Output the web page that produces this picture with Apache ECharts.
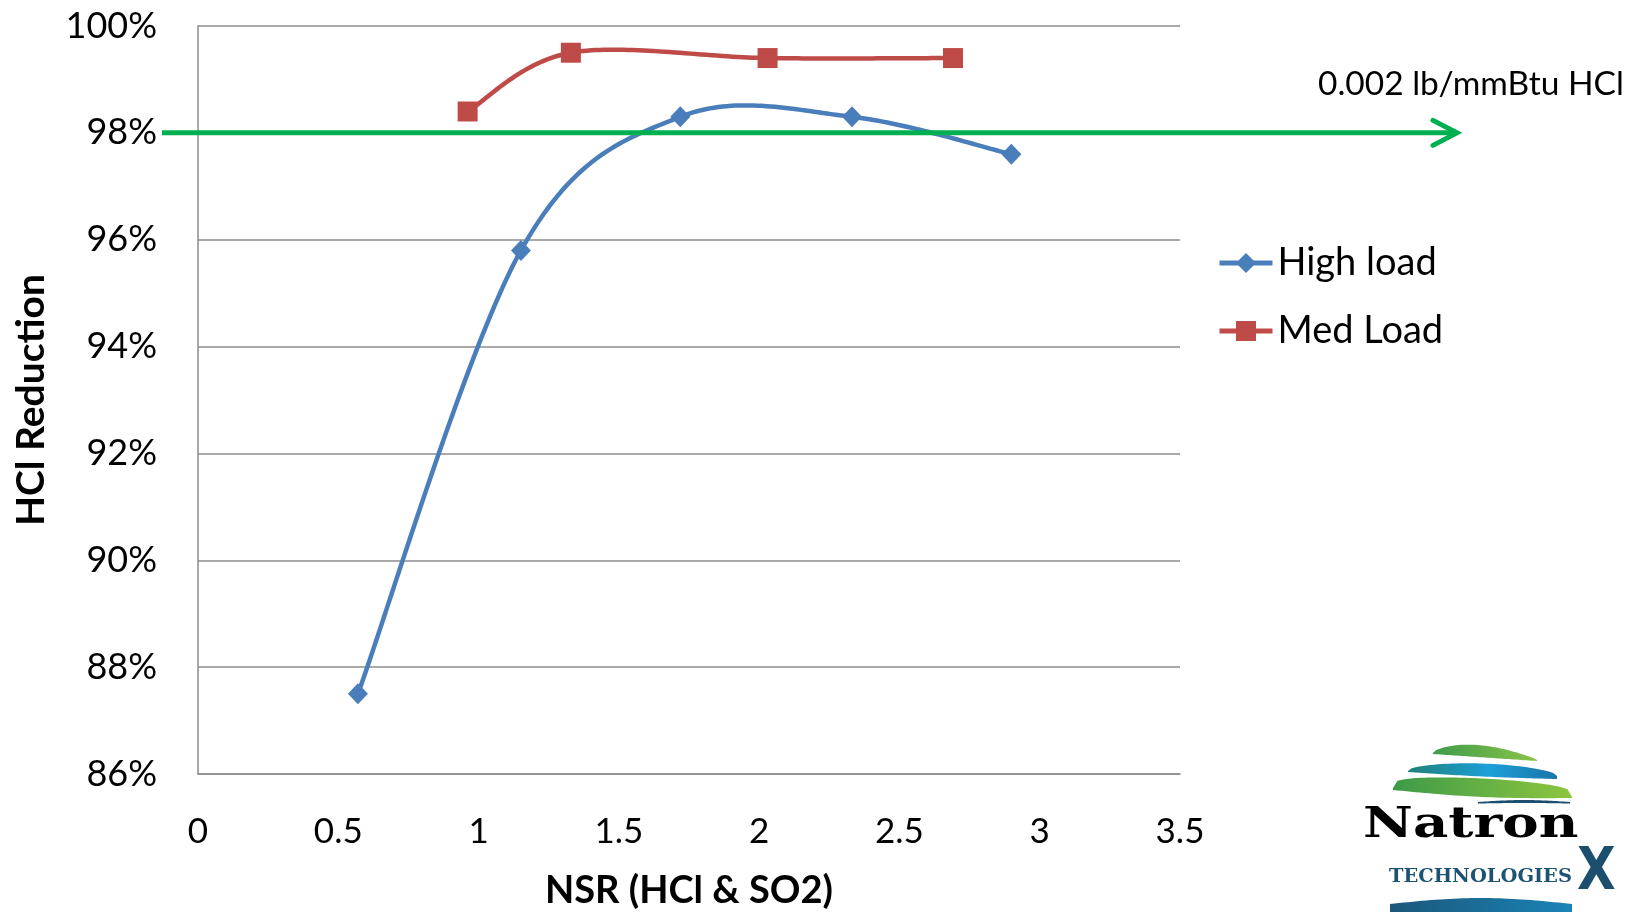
<!DOCTYPE html>
<html>
<head>
<meta charset="utf-8">
<script src="https://cdn.jsdelivr.net/npm/echarts@6/dist/echarts.min.js"></script>
<style>
  html, body { margin: 0; padding: 0; background: #fff; }
  #chart { width: 1633px; height: 912px; }
</style>
</head>
<body>
<div id="chart"></div>
<script>
// NSR vs. HCl reduction, two load cases
const highLoadNSR = [0.570, 1.151, 1.719, 2.331, 2.899];
const highLoadReduction = [87.5, 95.8, 98.3, 98.3, 97.6];
const medLoadNSR = [0.961, 1.329, 2.030, 2.691];
const medLoadReduction = [98.4, 99.5, 99.4, 99.4];
const seriesNames = ['High load', 'Med Load'];
const limitValue = 98;                       // 0.002 lb/mmBtu HCl target
const limitLabel = '0.002 lb/mmBtu HCl';
const xTitle = 'NSR (HCl & SO2)';
const yTitle = 'HCl Reduction';

const blue = '#4a7ebb';
const red = '#be4b48';
const green = '#00b050';

const pairs = (xs, ys) => xs.map((x, i) => [x, ys[i]]);

// Smoothed curve through the points (Catmull-Rom as cubic Bezier, 1/6 tension),
// drawn one segment per data item in pixel space.
function smoothCurve(xs, ys, color) {
  return function (params, api) {
    const i = params.dataIndex;
    const n = xs.length;
    if (i >= n - 1) return null;
    const P = j => {
      const k = Math.max(0, Math.min(n - 1, j));
      return api.coord([xs[k], ys[k]]);
    };
    const p0 = P(i - 1), p1 = P(i), p2 = P(i + 1), p3 = P(i + 2);
    const c1 = [p1[0] + (p2[0] - p0[0]) / 6, p1[1] + (p2[1] - p0[1]) / 6];
    const c2 = [p2[0] - (p3[0] - p1[0]) / 6, p2[1] - (p3[1] - p1[1]) / 6];
    const pts = [];
    const steps = 40;
    for (let k = 0; k <= steps; k++) {
      const t = k / steps, u = 1 - t;
      const a = u * u * u, b = 3 * u * u * t, c = 3 * u * t * t, d = t * t * t;
      pts.push([
        a * p1[0] + b * c1[0] + c * c2[0] + d * p2[0],
        a * p1[1] + b * c1[1] + c * c2[1] + d * p2[1]
      ]);
    }
    return {
      type: 'polyline',
      shape: { points: pts },
      style: { stroke: color, lineWidth: 4.5, fill: null, lineCap: 'round', lineJoin: 'round' }
    };
  };
}

const chart = echarts.init(document.getElementById('chart'), null, { renderer: 'canvas' });

const option = {
  backgroundColor: '#ffffff',
  animation: false,
  grid: { left: 198, right: 453, top: 26, bottom: 138, containLabel: false, outerBoundsMode: 'none' },
  legend: {
    data: [
      { name: seriesNames[0], lineStyle: { color: blue, width: 5, opacity: 1 } },
      { name: seriesNames[1], lineStyle: { color: red, width: 5, opacity: 1 } }
    ],
    orient: 'vertical',
    left: 1212,
    top: 239,
    itemWidth: 53,
    itemHeight: 25,
    itemGap: 30,
    lineStyle: { width: 5, opacity: 1 },
    textStyle: { fontFamily: 'Lato', fontSize: 38, color: '#000' }
  },
  xAxis: {
    type: 'value',
    min: 0, max: 3.5, interval: 0.5,
    name: xTitle,
    nameLocation: 'middle',
    nameGap: 98,
    nameTextStyle: { fontFamily: 'Lato', fontWeight: 'bold', fontSize: 38, color: '#000' },
    axisLine: { show: true, lineStyle: { color: '#8c8c8c', width: 1.5 } },
    axisTick: { show: false },
    splitLine: { show: false },
    axisLabel: { fontFamily: 'Lato', fontSize: 35, color: '#000', margin: 40 }
  },
  yAxis: {
    type: 'value',
    min: 86, max: 100, interval: 2,
    name: yTitle,
    nameLocation: 'middle',
    nameGap: 147,
    nameRotate: 90,
    nameTextStyle: { fontFamily: 'Lato', fontWeight: 'bold', fontSize: 39, color: '#000' },
    axisLine: { show: true, lineStyle: { color: '#8c8c8c', width: 1.5 } },
    axisTick: { show: false },
    splitLine: { show: true, lineStyle: { color: '#8c8c8c', width: 1.5 } },
    axisLabel: {
      fontFamily: 'Lato', fontSize: 36, color: '#000', margin: 41,
      formatter: v => v + '%'
    }
  },
  series: [
    {
      name: seriesNames[0],
      type: 'line',
      data: pairs(highLoadNSR, highLoadReduction),
      symbol: 'diamond',
      symbolSize: [20, 21],
      lineStyle: { color: blue, width: 5, opacity: 0 },
      itemStyle: { color: blue },
      z: 4
    },
    {
      name: seriesNames[1],
      type: 'line',
      data: pairs(medLoadNSR, medLoadReduction),
      symbol: 'rect',
      symbolSize: 20,
      lineStyle: { color: red, width: 5, opacity: 0 },
      itemStyle: { color: red },
      z: 4
    },
    {
      name: 'High load curve',
      type: 'custom',
      data: pairs(highLoadNSR, highLoadReduction),
      renderItem: smoothCurve(highLoadNSR, highLoadReduction, blue),
      z: 3,
      silent: true
    },
    {
      name: 'Med Load curve',
      type: 'custom',
      data: pairs(medLoadNSR, medLoadReduction),
      renderItem: smoothCurve(medLoadNSR, medLoadReduction, red),
      z: 3,
      silent: true
    }
  ]
};

chart.setOption(option);

// Target line with arrow, plus the company mark in the corner
const yLimit = chart.convertToPixel({ yAxisIndex: 0 }, limitValue);
const lineStart = 162, arrowTip = 1457;

// closed band between a top and bottom edge, each given as a function of t in [0,1]
function band(x0, x1, topFn, botFn) {
  const pts = [];
  const steps = 40;
  for (let i = 0; i <= steps; i++) {
    const t = i / steps;
    pts.push([x0 + (x1 - x0) * t, topFn(t)]);
  }
  for (let i = steps; i >= 0; i--) {
    const t = i / steps;
    pts.push([x0 + (x1 - x0) * t, botFn(t)]);
  }
  return pts;
}
const bump = (t, p) => Math.pow(Math.max(0, Math.sin(Math.PI * t)), p || 1);
const lerp = (a, b, t) => a + (b - a) * t;

const logoBands = [
  // top dome (green)
  {
    pts: band(1433, 1537,
      t => lerp(753, 760, t) - 11 * bump(Math.pow(t, 0.8), 0.8),
      t => lerp(754, 761, t)),
    color: new echarts.graphic.LinearGradient(0, 0, 1, 0, [
      { offset: 0, color: '#3f9b4b' }, { offset: 1, color: '#8bc34a' }
    ])
  },
  // blue band
  {
    pts: band(1408, 1557,
      t => lerp(771, 776, t) - 10 * bump(t, 0.5),
      t => lerp(772, 779, t) + 1 * bump(t)),
    color: new echarts.graphic.LinearGradient(0, 0, 1, 0, [
      { offset: 0, color: '#21807a' }, { offset: 0.55, color: '#1ba0d8' }, { offset: 1, color: '#1c74a8' }
    ])
  },
  // lower green band
  {
    pts: band(1393, 1572,
      t => lerp(788, 797, t) - 14 * bump(t, 0.25),
      t => lerp(790, 798, t) + 3 * bump(t)),
    color: new echarts.graphic.LinearGradient(0, 0, 1, 0, [
      { offset: 0, color: '#3d9a48' }, { offset: 1, color: '#8dc63f' }
    ])
  },
  // thin dark wave
  {
    pts: band(1478, 1570,
      t => 802 - 2 * bump(t),
      t => 803.5 - 0.5 * bump(t)),
    color: '#1c4f6e'
  },
  // bottom wave
  {
    pts: band(1390, 1572,
      t => 904 - 6 * bump(t),
      t => 914),
    color: new echarts.graphic.LinearGradient(0, 0, 1, 0, [
      { offset: 0, color: '#1b577a' }, { offset: 1, color: '#1a84b6' }
    ])
  }
];

chart.setOption({
  graphic: [
    {
      type: 'line',
      shape: { x1: lineStart, y1: yLimit, x2: arrowTip - 2, y2: yLimit },
      style: { stroke: green, lineWidth: 5 },
      z: 10
    },
    {
      type: 'polyline',
      shape: { points: [[arrowTip - 24, yLimit - 12.5], [arrowTip, yLimit], [arrowTip - 24, yLimit + 12.5]] },
      style: { stroke: green, lineWidth: 5, fill: null, lineJoin: 'miter', lineCap: 'round' },
      z: 10
    },
    {
      type: 'text',
      left: 1318,
      top: 67,
      style: { text: limitLabel, font: '33.5px Lato', fill: '#000' },
      z: 10
    },
    ...logoBands.map(b => ({
      type: 'polygon',
      shape: { points: b.pts },
      style: { fill: b.color },
      z: 5
    })),
    {
      type: 'text',
      x: 1363,
      y: 826,
      scaleX: 1.30,
      style: {
        text: 'Natron',
        font: 'bold 42px "DejaVu Serif"',
        verticalAlign: 'middle',
        fill: new echarts.graphic.LinearGradient(0, 0, 1, 0, [
          { offset: 0, color: '#1b4a68' }, { offset: 0.65, color: '#1a6b93' }, { offset: 1, color: '#1b8fbd' }
        ])
      },
      z: 6
    },
    {
      type: 'text',
      x: 1389,
      y: 877,
      scaleX: 1.08,
      style: {
        text: 'TECHNOLOGIES',
        font: 'bold 18px "DejaVu Serif"',
        verticalAlign: 'middle',
        fill: '#1c5272'
      },
      z: 6
    },
    {
      type: 'text',
      x: 1577,
      y: 874,
      scaleX: 0.85,
      style: {
        text: 'X',
        font: 'bold 59px "DejaVu Sans"',
        verticalAlign: 'middle',
        fill: '#1c4f6e'
      },
      z: 6
    }
  ]
});
</script>
</body>
</html>
